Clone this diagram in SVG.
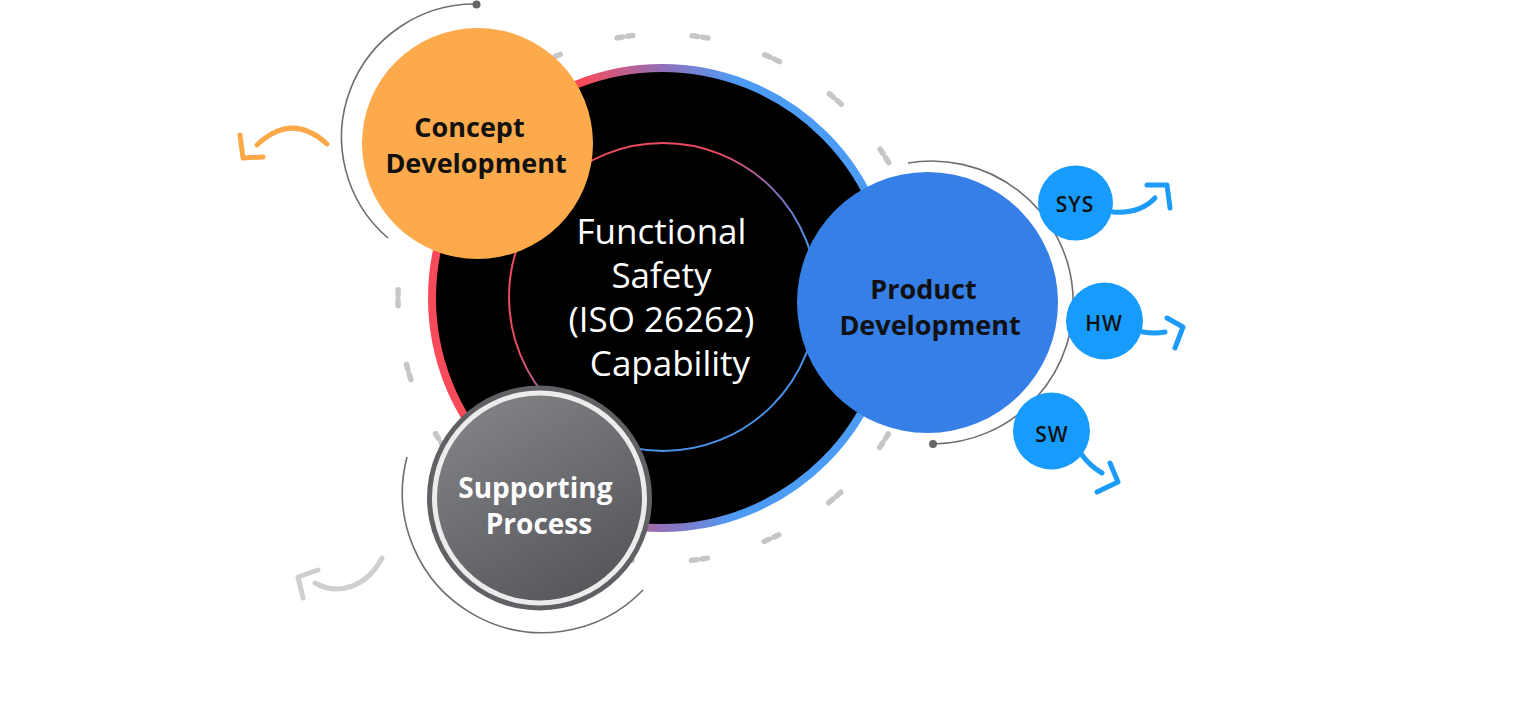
<svg xmlns="http://www.w3.org/2000/svg" width="1521" height="704" viewBox="0 0 1521 704">
  <defs>
    <linearGradient id="outerRing" gradientUnits="userSpaceOnUse" x1="428" y1="0" x2="896" y2="0">
      <stop offset="0.33" stop-color="#F94A5A"/>
      <stop offset="0.5" stop-color="#9170B8"/>
      <stop offset="0.66" stop-color="#4C9CF6"/>
    </linearGradient>
    <linearGradient id="innerRing" x1="0" y1="0" x2="1" y2="1">
      <stop offset="0.35" stop-color="#EC4A5E"/>
      <stop offset="0.5" stop-color="#8E6DB6"/>
      <stop offset="0.65" stop-color="#4A92E8"/>
    </linearGradient>
    <linearGradient id="supGrad" x1="0.2" y1="0" x2="0.8" y2="1">
      <stop offset="0" stop-color="#828387"/>
      <stop offset="1" stop-color="#545559"/>
    </linearGradient>
    <style>
      .label { font-family: "Open Sans", "Liberation Sans", sans-serif; text-anchor: middle; }
      .node-label { font-size: 27px; font-weight: 700; }
      .sup-label { font-size: 28px; }
      .small-label { font-size: 21px; font-weight: 600; fill: #111; letter-spacing: 1px; }
      .arc { fill: none; stroke: #6e6e6e; stroke-width: 1.6; }
      .dot { fill: #666; }
      .arrow { fill: none; stroke-width: 5; stroke-linecap: round; stroke-linejoin: round; }
      .blue-arrow { stroke: #1C9BF8; }
      .small { fill: #179CFD; }
    </style>
  </defs>

  <!-- dashed outer circle -->
  <circle cx="662" cy="298" r="264" fill="none" stroke="#c6c6c6" stroke-width="5.5" stroke-linecap="round" stroke-dasharray="5.5 5 5.5 59.4" stroke-dashoffset="8"/>

  <!-- central node -->
  <g id="functional-safety">
    <circle cx="662" cy="298" r="230" fill="#000" stroke="url(#outerRing)" stroke-width="8"/>
    <circle cx="663" cy="297" r="154" fill="none" stroke="url(#innerRing)" stroke-width="2"/>
    <text class="label" fill="#fff" font-size="35">
      <tspan x="666" y="244">Functional</tspan>
      <tspan x="666" y="288">Safety</tspan>
      <tspan x="666" y="332">(ISO 26262)</tspan>
      <tspan x="670" y="376">Capability</tspan>
    </text>
  </g>

  <!-- connectors / decorative arcs and arrows -->
  <g id="connectors">
    <path class="arc" d="M476,4 A133,133 0 0,0 388,238"/>
    <circle class="dot" cx="476.5" cy="4.5" r="4"/>
    <path class="arc" d="M908,163 A141.5,141.5 0 1,1 933,444"/>
    <circle class="dot" cx="933" cy="444" r="4"/>
    <path class="arc" d="M407,457 A140,140 0 0,0 643,590"/>

    <path class="arrow" stroke="#FBA948" d="M327,144 Q292,112 257,145"/>
    <path class="arrow" stroke="#FBA948" d="M240,135 L243,158 L263,157"/>

    <path class="arrow" stroke="#cfcfcf" d="M382,558 C368,585 340,597 315,583"/>
    <path class="arrow" stroke="#cfcfcf" d="M318,570 L298,577 L303,598"/>

    <path class="arrow blue-arrow" d="M1113,212 Q1140,214 1155,198"/>
    <path class="arrow blue-arrow" d="M1147,185 L1167,185 L1170,208"/>
    <path class="arrow blue-arrow" d="M1143,332 Q1155,334 1165,332"/>
    <path class="arrow blue-arrow" d="M1167,318 L1183,327 L1175,348"/>
    <path class="arrow blue-arrow" d="M1082,455 Q1090,466 1102,473"/>
    <path class="arrow blue-arrow" d="M1110,463 L1118,482 L1097,492"/>
  </g>

  <g id="concept-development">
    <circle cx="477.5" cy="143.5" r="115.5" fill="#FCAA4B"/>
    <text class="label node-label" fill="#111">
      <tspan x="473" y="137">Concept</tspan>
      <tspan x="476" y="173">Development</tspan>
    </text>
  </g>

  <g id="product-development">
    <circle cx="927.5" cy="302.5" r="130.5" fill="#357FE6"/>
    <text class="label node-label" fill="#111">
      <tspan x="927" y="299">Product</tspan>
      <tspan x="930" y="335">Development</tspan>
    </text>
  </g>

  <g id="supporting-process">
    <circle cx="539.5" cy="498" r="112.5" fill="#606164"/>
    <circle cx="539.5" cy="498" r="107.5" fill="#ececec"/>
    <circle cx="539.5" cy="498" r="102.5" fill="url(#supGrad)"/>
    <text class="label node-label sup-label" fill="#fff">
      <tspan x="539" y="498">Supporting</tspan>
      <tspan x="539" y="534">Process</tspan>
    </text>
  </g>

  <g id="sys">
    <circle class="small" cx="1075.5" cy="203" r="37.5"/>
    <text class="label small-label" x="1075" y="212">SYS</text>
  </g>
  <g id="hw">
    <circle class="small" cx="1104.5" cy="321" r="38.5"/>
    <text class="label small-label" x="1104" y="331">HW</text>
  </g>
  <g id="sw">
    <circle class="small" cx="1051.5" cy="431" r="38.5"/>
    <text class="label small-label" x="1052" y="442">SW</text>
  </g>
</svg>
